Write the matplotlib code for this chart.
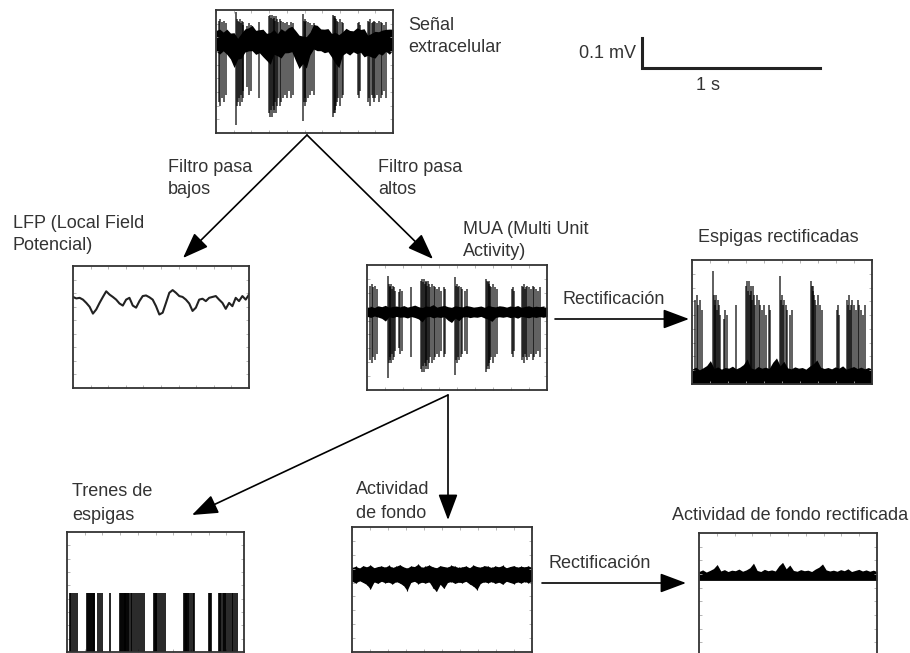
import numpy as np
import matplotlib
matplotlib.use('Agg')
import matplotlib.pyplot as plt

plt.rcParams['font.family'] = ['Liberation Sans', 'DejaVu Sans']

W, H = 910, 653  # figure size in pixels

# --- DATA (mV and s) ---
# slow trace of the LFP panel
lfp_mv = [0.003, -0.002, 0.0, -0.006, -0.017, -0.030, -0.053, -0.039, -0.017, 0.003,
          0.022, 0.011, 0.003, -0.006, -0.019, -0.026, -0.006, 0.0, -0.026, -0.033,
          -0.011, 0.006, 0.008, 0.002, -0.006, -0.028, -0.056, -0.050, -0.017, 0.017,
          0.026, 0.017, 0.006, 0.003, -0.006, -0.019, -0.044, -0.033, -0.006, -0.003,
          -0.011, 0.0, 0.003, 0.006, -0.006, -0.017, -0.037, -0.017, -0.028, 0.0,
          -0.011, 0.006, -0.006, 0.011]

# spike times (s) and spike depth (mV) of the MUA bursts
spike_t = [0.015, 0.025, 0.035, 0.045, 0.055,
           0.115, 0.12, 0.125, 0.13, 0.135, 0.14, 0.145, 0.15, 0.155,
           0.175, 0.185, 0.195,
           0.245,
           0.30, 0.305, 0.31, 0.315, 0.32, 0.325, 0.33, 0.335, 0.34, 0.345,
           0.35, 0.36, 0.37, 0.38, 0.39, 0.40, 0.41, 0.425, 0.435,
           0.49, 0.495, 0.50, 0.505, 0.51, 0.52, 0.53, 0.545, 0.555,
           0.66, 0.665, 0.67, 0.675, 0.68, 0.685, 0.69, 0.70, 0.71, 0.72,
           0.805, 0.81, 0.815,
           0.86, 0.865, 0.87, 0.88, 0.885, 0.89, 0.90, 0.91, 0.92, 0.93,
           0.94, 0.95, 0.96]
spike_depth = [0.16, 0.17, 0.15, 0.16, 0.14,
               0.22, 0.17, 0.16, 0.15, 0.17, 0.14, 0.16, 0.15, 0.13,
               0.12, 0.14, 0.13,
               0.15,
               0.19, 0.20, 0.18, 0.20, 0.17, 0.19, 0.18, 0.16, 0.19, 0.17,
               0.15, 0.17, 0.16, 0.15, 0.14, 0.15, 0.13, 0.15, 0.14,
               0.21, 0.16, 0.17, 0.15, 0.16, 0.15, 0.14, 0.13, 0.14,
               0.20, 0.19, 0.18, 0.19, 0.17, 0.16, 0.15, 0.17, 0.15, 0.14,
               0.14, 0.15, 0.13,
               0.16, 0.15, 0.17, 0.14, 0.15, 0.16, 0.15, 0.14, 0.16, 0.15,
               0.14, 0.13, 0.15]

# background activity envelope (above / below baseline)
fondo_hi = [0.022, 0.026, 0.020, 0.028, 0.024, 0.030, 0.021, 0.025, 0.027, 0.023,
            0.029, 0.022, 0.026, 0.031, 0.024, 0.020, 0.027, 0.025, 0.033, 0.022,
            0.026, 0.030, 0.024, 0.021, 0.028, 0.025, 0.023, 0.029, 0.026, 0.022,
            0.024, 0.027, 0.021, 0.030, 0.025, 0.023, 0.028, 0.026, 0.022, 0.027,
            0.024, 0.029, 0.021, 0.025, 0.028, 0.023, 0.026, 0.024, 0.027, 0.022]
fondo_lo = [-0.024, -0.030, -0.022, -0.028, -0.035, -0.050, -0.026, -0.031, -0.024, -0.029,
            -0.027, -0.033, -0.025, -0.030, -0.038, -0.055, -0.028, -0.024, -0.032, -0.027,
            -0.030, -0.026, -0.045, -0.058, -0.034, -0.048, -0.028, -0.025, -0.031, -0.027,
            -0.029, -0.024, -0.033, -0.040, -0.052, -0.030, -0.026, -0.029, -0.025, -0.031,
            -0.027, -0.034, -0.024, -0.028, -0.032, -0.026, -0.030, -0.025, -0.029, -0.024]

lfp_t = np.linspace(0, 1, len(lfp_mv))
fondo_t = np.linspace(0, 1, len(fondo_hi))
lfp = np.array(lfp_mv)
st = np.array(spike_t)
sd = np.array(spike_depth)
fhi = np.array(fondo_hi)
flo = np.array(fondo_lo)

fig = plt.figure(figsize=(W / 100, H / 100), dpi=100)
bg = fig.add_axes([0, 0, 1, 1])
bg.set_xlim(0, W)
bg.set_ylim(H, 0)
bg.axis('off')


def panel(x0, y0, x1, y1, ylim):
    ax = fig.add_axes([x0 / W, 1 - y1 / H, (x1 - x0) / W, (y1 - y0) / H])
    ax.set_xlim(0, 1)
    ax.set_ylim(*ylim)
    ax.set_xticks(np.arange(0, 1.01, 0.1))
    ax.set_yticks(np.linspace(ylim[0], ylim[1], 10)[1:-1])
    ax.tick_params(direction='in', length=2.5, width=0.6, colors='#aaaaaa',
                   top=True, right=True, labelbottom=False, labelleft=False)
    for s in ax.spines.values():
        s.set_color('#333333')
        s.set_linewidth(1.3)
    return ax


def label(x, y, s, ha='left'):
    bg.text(x, y, s, ha=ha, va='center', fontsize=13, color='#333333')


def arrow(x0, y0, x1, y1):
    bg.annotate('', xy=(x1, y1), xytext=(x0, y0),
                arrowprops=dict(arrowstyle='-|>,head_length=0.8,head_width=0.3',
                                color='black', lw=1.2, mutation_scale=20,
                                shrinkA=0, shrinkB=0))


spk = dict(color='black', lw=1.1, alpha=0.8)

# --- Señal extracelular ---
ax = panel(216, 10, 393, 133, (-0.303, 0.107))
slow = 0.5 * np.interp(fondo_t, lfp_t, lfp)
ax.fill_between(fondo_t, slow + 1.7 * fhi, slow + 1.3 * flo, color='black', lw=0)
ax.vlines(st, -1.25 * sd, 0.45 * sd, **spk)

# --- LFP ---
ax = panel(73, 266, 249, 388, (-0.303, 0.107))
ax.plot(lfp_t, lfp, color='#222222', lw=1.5)

# --- MUA ---
ax = panel(367, 265, 547, 390, (-0.26, 0.157))
ax.fill_between(fondo_t, 0.75 * fhi, 0.6 * flo, color='black', lw=0)
ax.vlines(st, -sd, 0.55 * sd, **spk)

# --- Espigas rectificadas ---
ax = panel(692, 260, 872, 384, (-0.023, 0.39))
ax.fill_between(fondo_t, -0.023, 1.1 * np.abs(flo), color='black', lw=0)
ax.vlines(st, 0, 1.6 * sd, **spk)

# --- Trenes de espigas ---
ax = panel(67, 532, 244, 652, (0, 2.04))
ax.vlines(st, 0, 1, color='black', lw=1.4, alpha=0.85)

# --- Actividad de fondo ---
ax = panel(352, 527, 532, 652, (-0.26, 0.157))
ax.fill_between(fondo_t, fhi, flo, color='black', lw=0)
ax.vlines(fondo_t, flo, fhi, color='black', lw=0.8)

# --- Actividad de fondo rectificada ---
ax = panel(699, 533, 877, 656, (-0.26, 0.15))
ax.fill_between(fondo_t, -0.008, 0.9 * np.abs(flo), color='black', lw=0)

# --- scale bar ---
bg.plot([642, 642, 820], [38, 68, 68], color='#222222', lw=2.2,
        solid_joinstyle='miter')
label(636, 53, '0.1 mV', ha='right')
label(708, 85, '1 s', ha='center')

# --- arrows ---
arrow(307, 135, 183, 258)
arrow(307, 135, 433, 259)
arrow(448, 395, 192, 515)
arrow(448, 395, 448, 520)
arrow(555, 319, 689, 319)
arrow(542, 583, 686, 583)

# --- labels ---
label(408, 25, 'Señal')
label(408, 47, 'extracelular')
label(168, 167, 'Filtro pasa')
label(168, 190, 'bajos')
label(378, 167, 'Filtro pasa')
label(378, 190, 'altos')
label(13, 224, 'LFP (Local Field')
label(13, 245, 'Potencial)')
label(463, 230, 'MUA (Multi Unit')
label(463, 251, 'Activity)')
label(778, 238, 'Espigas rectificadas', ha='center')
label(563, 300, 'Rectificación')
label(72, 492, 'Trenes de')
label(72, 515, 'espigas')
label(356, 490, 'Actividad')
label(356, 513, 'de fondo')
label(548, 563, 'Rectificación')
label(790, 515, 'Actividad de fondo rectificada', ha='center')

fig.savefig('out.png', dpi=100)
